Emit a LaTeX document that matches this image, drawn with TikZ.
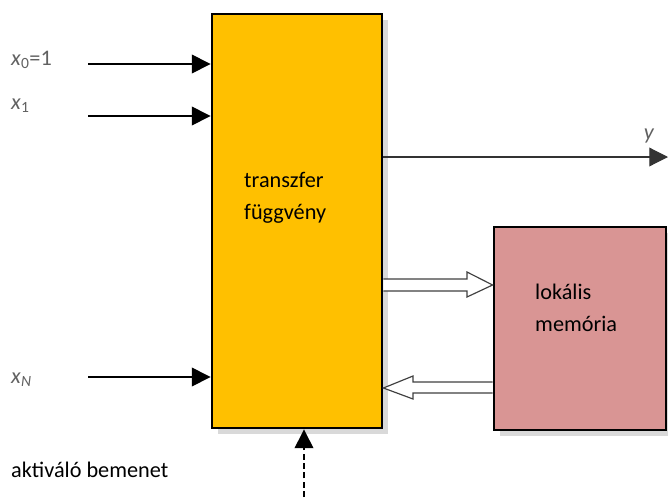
\documentclass[tikz,border=0pt]{standalone}
\usepackage{fontspec}
\setmainfont{Carlito}
\usetikzlibrary{arrows.meta,shadows,calc}
\colorlet{myyellow}{rgb,255:red,255;green,192;blue,0}
\colorlet{myrose}{rgb,255:red,217;green,149;blue,148}
\colorlet{labelgray}{black!62}
\tikzset{>={Triangle[length=16pt,width=16pt]}}
\tikzstyle{block}=[draw=black,line width=2.4pt,inner sep=0,
  drop shadow={shadow xshift=5pt,shadow yshift=-5pt,opacity=0.3}]
\tikzstyle{sig}=[->,line width=1pt]
\tikzstyle{hollow}=[draw=black!75,line width=1pt,fill=white,line join=miter]
\tikzstyle{lbl}=[anchor=west,inner sep=0,labelgray,font=\fontsize{19}{23}\selectfont]
\tikzstyle{txt}=[anchor=west,inner sep=0,align=left,font=\fontsize{19}{27}\selectfont]

\begin{document}
\begin{tikzpicture}[x=0.03cm,y=-0.03cm]
                \useasboundingbox (0,0) rectangle (668,497);
                \node[block,fill=myyellow,minimum width=5.1cm,minimum height=12.42cm] (trans) at (297,221) {};
                \node[block,fill=myrose,minimum width=5.16cm,minimum height=6.09cm] (mem) at (580,328.5) {};
                \node[txt] (transtxt) at (244,198) {transzfer\\függvény};
                \node[txt] (memtxt) at (535,308) {lokális\\memória};
                % inputs
                \coordinate (in0) at (88,64);
                \coordinate (in1) at (88,116);
                \coordinate (inN) at (88,377);
                \node[lbl] (x0) at (11,60) {\textit{x}\textsubscript{0}=1};
                \node[lbl] (x1) at (11,106) {\textit{x}\textsubscript{1}};
                \node[lbl] (xN) at (11,380) {\textit{x}\textsubscript{\textit{N}}};
                \draw[sig] (in0) -- (trans.west |- in0);
                \draw[sig] (in1) -- (trans.west |- in1);
                \draw[sig] (inN) -- (trans.west |- inN);
                % output
                \coordinate (out) at (668,157);
                \node[lbl,anchor=south] (y) at (649,143) {\textit{y}};
                \draw[sig,black!80] (trans.east |- out) -- (out);
                % activation
                \coordinate (act) at (304,497);
                \node[txt] (acttxt) at (11,470) {aktiváló bemenet};
                \draw[sig,dashed,dash pattern=on 5pt off 3pt] (act) -- (act |- trans.south);
                % memory traffic
                \draw[hollow] (trans.east |- 0,279) -- (467,279) -- (467,272)
                  -- (mem.west |- 0,285) -- (467,297) -- (467,291) -- (trans.east |- 0,291);
                \draw[hollow] (mem.west |- 0,382) -- (413,382) -- (413,376)
                  -- (trans.east |- 0,388) -- (413,399) -- (413,393) -- (mem.west |- 0,393);
              \end{tikzpicture}
\end{document}
